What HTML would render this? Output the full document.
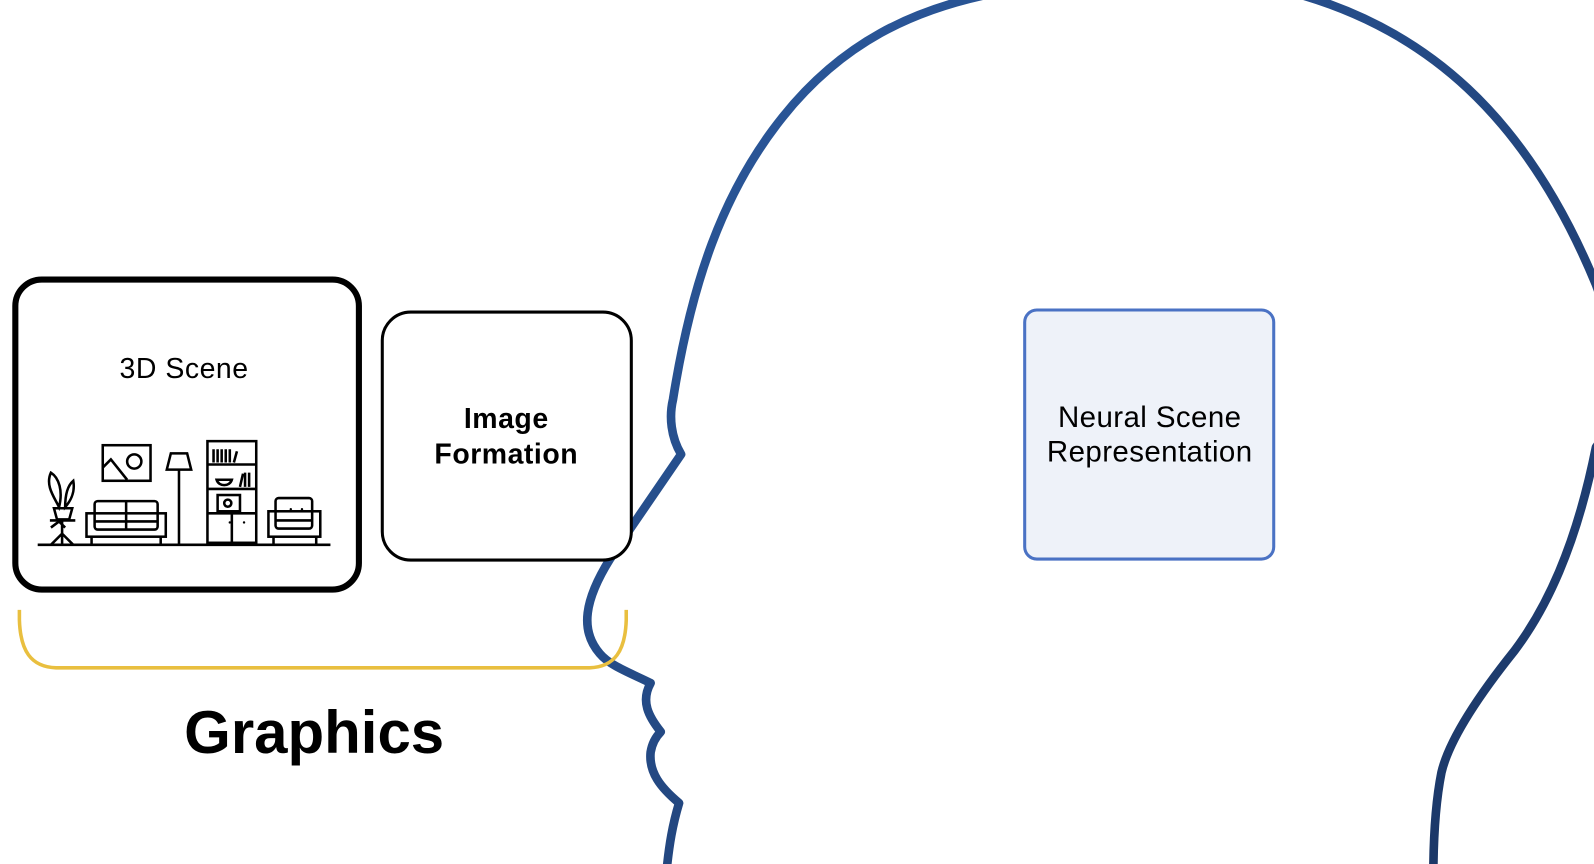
<!DOCTYPE html>
<html><head><style>
html,body{margin:0;padding:0;background:#fff;overflow:hidden;}
svg{display:block;}
text{font-family:"Liberation Sans",sans-serif;}
</style></head><body>
<svg width="1594" height="864" viewBox="0 0 1568 850" xmlns="http://www.w3.org/2000/svg">
<defs>
<linearGradient id="hg" x1="0" y1="0" x2="1" y2="1">
<stop offset="0" stop-color="#2c5ba0"/><stop offset="1" stop-color="#1a3462"/>
</linearGradient>
</defs>
<path d="M655,864 C658,830 662,810 668,790 C650,775 638,760 640,740 C642,728 648,722 650,720 C638,705 630,690 640,672 C620,662 600,655 590,643 C570,620 575,590 600,550 L620,520 L670,447 C660,430 658,410 662,393 C680,280 710,190 770,115 C830,40 900,10 970,-5 M1280,-5 C1400,30 1500,110 1570,280 C1600,360 1585,420 1570,440 C1550,540 1520,600 1490,640 C1450,690 1425,730 1418,760 C1412,790 1410,830 1410,864" fill="none" stroke="url(#hg)" stroke-width="8.5" stroke-linejoin="round"/>
<rect x="15" y="275" width="338" height="305" rx="26" fill="#fff" stroke="#000" stroke-width="6"/>
<text x="181" y="372" font-size="28" text-anchor="middle" letter-spacing="0.5">3D Scene</text>
<g fill="none" stroke="#000" stroke-width="2.5">
<line x1="37" y1="536" x2="325" y2="536"/>
<path d="M50,519 L58,513 L64,519 M61,513 L61,536 M50,536 L61,525 L72,536"/>
<line x1="49" y1="512" x2="74" y2="512"/>
<path d="M53,500 L71,500 L68,511 L56,511 Z"/>
<path d="M58,499 C54,490 44,478 50,465 C58,470 62,483 58,499 Z"/>
<path d="M64,499 C64,488 66,478 72,473 C74,484 70,492 64,499 Z"/>
<rect x="101" y="438" width="47" height="35"/>
<path d="M101,460 L109,452 L125,472"/>
<circle cx="132" cy="454" r="7"/>
<rect x="85" y="505" width="78" height="23"/>
<rect x="93" y="493" width="62" height="28" rx="3"/>
<line x1="124" y1="493" x2="124" y2="521"/>
<line x1="93" y1="513" x2="155" y2="513"/>
<path d="M90,528 L90,536 M158,528 L158,536"/>
<path d="M168,446 L184,446 L188,462 L164,462 Z"/>
<line x1="176" y1="462" x2="176" y2="536"/>
<rect x="204" y="434" width="48" height="100"/>
<path d="M204,457 L252,457 M204,481 L252,481 M204,505 L252,505 M228,505 L228,534"/>
<path d="M210,455 L210,442 M214,455 L214,442 M218,455 L218,442 M222,455 L222,442 M226,455 L226,442 M230,455 L233,444"/>
<path d="M213,472 L228,472 C226,479 215,479 213,472 Z"/>
<path d="M236,479 L239,466 M241,479 L241,465 M245,479 L245,465"/>
<rect x="214" y="487" width="22" height="16"/>
<circle cx="224" cy="495" r="3.5"/>
<rect x="264" y="503" width="51" height="25"/>
<rect x="271" y="490" width="36" height="30" rx="3"/>
<line x1="271" y1="512" x2="307" y2="512"/>
<path d="M269,528 L269,536 M311,528 L311,536"/>
</g>
<g fill="#000"><circle cx="286" cy="501" r="1.2"/><circle cx="297" cy="501" r="1.2"/><circle cx="226" cy="514" r="1.2"/><circle cx="240" cy="514" r="1.2"/></g>
<rect x="376" y="307" width="245" height="244" rx="28" fill="#fff" stroke="#000" stroke-width="3"/>
<text x="498" y="421" font-size="28" font-weight="bold" text-anchor="middle" letter-spacing="0.5">Image</text>
<text x="498" y="456" font-size="28" font-weight="bold" text-anchor="middle" letter-spacing="0.5">Formation</text>
<rect x="1008" y="305" width="245" height="245" rx="12" fill="#eef2f9" stroke="#4a72c4" stroke-width="3"/>
<text x="1131" y="420" font-size="29" text-anchor="middle" letter-spacing="0.4">Neural Scene</text>
<text x="1131" y="454" font-size="29" text-anchor="middle" letter-spacing="0.4">Representation</text>
<path d="M19,600 L19,610 C20,640 30,656 55,657 L580,657 C605,656 615,640 616,610 L616,600" fill="none" stroke="#e9bf3f" stroke-width="3.5"/>
<text x="309" y="741" font-size="59" font-weight="bold" text-anchor="middle">Graphics</text>
</svg>
</body></html>
